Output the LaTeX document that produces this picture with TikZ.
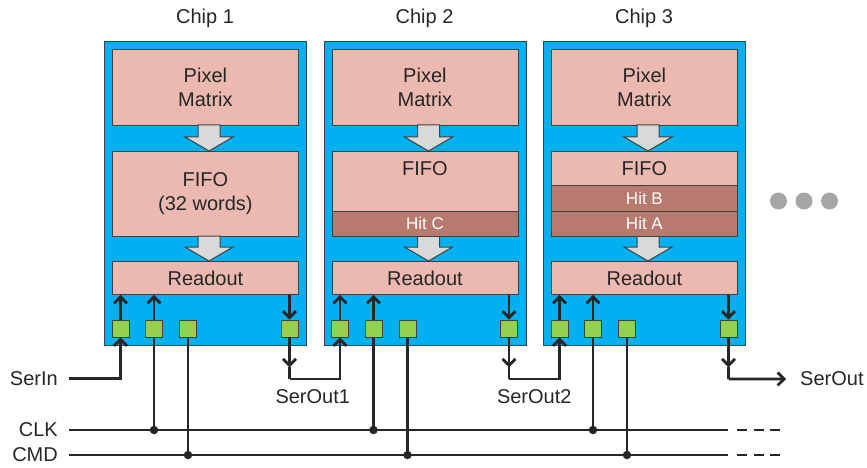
\documentclass[tikz,border=0pt]{standalone}
\usepackage{fontspec}
\setmainfont{Liberation Sans}
\usetikzlibrary{arrows.meta,calc}
\definecolor{chipc}{HTML}{00B0F0}
\definecolor{blockc}{HTML}{ECB9B0}
\definecolor{hitc}{HTML}{B87A6E}
\definecolor{padc}{HTML}{92D050}
\definecolor{edgec}{HTML}{404040}
\definecolor{txtc}{HTML}{262626}
\definecolor{garrow}{HTML}{D9D9D9}
\definecolor{dotc}{HTML}{A6A6A6}
\begin{document}
\begin{tikzpicture}[x=1pt,y=-1pt,
  chipbox/.style={draw=edgec, line width=1pt, fill=chipc, minimum width=202pt, minimum height=304pt, inner sep=0pt, anchor=north west},
  blk/.style={draw=edgec, line width=0.8pt, fill=blockc, minimum width=186pt, inner sep=0pt, anchor=north west, font=\fontsize{20}{24}\selectfont, text=txtc, align=center},
  hit/.style={blk, fill=hitc, text=white, font=\fontsize{17}{20}\selectfont, minimum height=25.5pt},
  lbl/.style={font=\fontsize{20}{24}\selectfont, text=txtc, inner sep=0pt},
  pad/.style={draw=edgec, line width=0.8pt, fill=padc, minimum size=17pt, inner sep=0pt},
  wire/.style={line width=2.8pt, draw=txtc},
  arr/.style={wire, -{Straight Barb[length=6.5pt,width=13pt]}},
  bigarrow/.style={draw=edgec, line width=1pt, fill=garrow, line join=miter},
  junction/.style={circle, fill=txtc, minimum size=8.5pt, inner sep=0pt},
  ellip/.style={circle, fill=dotc, minimum size=17pt, inner sep=0pt},
  busdash/.style={wire, dash pattern=on 10pt off 6.5pt}
]
\useasboundingbox (0,0) rectangle (867,468);

% chips and their blocks
\foreach \i/\L in {1/104,2/323.5,3/543}{
  \node[lbl, anchor=base] (title\i) at (\L+101,23.3) {Chip \i};
  \node[chipbox] (chip\i) at (\L,41) {};
  \node[blk, minimum height=76pt] (pm\i) at (\L+8,49) {Pixel\\Matrix};
  \node[blk, minimum height=85pt] (fifo\i) at (\L+8,151) {};
  \node[blk, minimum height=33pt] (ro\i) at (\L+8,261) {Readout};
  % block arrows
  \draw[bigarrow] (\L+94,125) -- (\L+116,125) -- (\L+116,137) -- (\L+129,137)
     -- (\L+105,151) -- (\L+81,137) -- (\L+94,137) -- cycle;
  \draw[bigarrow] (\L+94,236) -- (\L+116,236) -- (\L+116,247) -- (\L+129,247)
     -- (\L+105,261) -- (\L+81,247) -- (\L+94,247) -- cycle;
}
\node[lbl, align=center] (fifotxt1) at (fifo1.center) {FIFO\\(32 words)};
\node[lbl] (fifotxt2) at ($(fifo2.north)+(0,18)$) {FIFO};
\node[lbl] (fifotxt3) at ($(fifo3.north)+(0,18)$) {FIFO};
\node[hit] (hitc) at (331.5,210.5) {Hit C};
\node[hit] (hitb) at (551,185) {Hit B};
\node[hit] (hita) at (551,210.5) {Hit A};

% pads (positions)
\foreach \i/\L in {1/104,2/323.5,3/543}{
  \coordinate (pa\i) at (\L+16.5,328.5);
  \coordinate (pb\i) at (\L+50,328.5);
  \coordinate (pc\i) at (\L+84,328.5);
  \coordinate (pd\i) at (\L+185.5,328.5);
}

% bus lines
\coordinate (clkL) at (69,430);
\coordinate (clkR) at (728,430);
\coordinate (clkD1) at (737,430);
\coordinate (clkD2) at (781,430);
\coordinate (cmdL) at (69,455);
\coordinate (cmdR) at (728,455);
\coordinate (cmdD1) at (737,455);
\coordinate (cmdD2) at (781,455);
\draw[wire] (clkL) -- (clkR);
\draw[busdash] (clkD1) -- (clkD2);
\draw[wire] (cmdL) -- (cmdR);
\draw[busdash] (cmdD1) -- (cmdD2);
\node[lbl, anchor=east] (clklbl) at (58,430) {CLK};
\node[lbl, anchor=east] (cmdlbl) at (58,455) {CMD};

\foreach \i in {1,2,3}{
  \node[junction] (jclk\i) at (pb\i |- clkL) {};
  \node[junction] (jcmd\i) at (pc\i |- cmdL) {};
  \draw[wire] (jclk\i.center) -- (pb\i);
  \draw[wire] (jcmd\i.center) -- (pc\i);
}

% pads drawn on top
\foreach \i in {1,2,3}{
  \node[pad] (PA\i) at (pa\i) {};
  \node[pad] (PB\i) at (pb\i) {};
  \node[pad] (PC\i) at (pc\i) {};
  \node[pad] (PD\i) at (pd\i) {};
  \draw[arr] (PA\i.north) -- (PA\i.north |- ro\i.south);
  \draw[arr] (PB\i.north) -- (PB\i.north |- ro\i.south);
  \draw[arr] (PD\i.north |- ro\i.south) -- (PD\i.north);
  \coordinate (mid\i) at ($(PD\i.south)+(0,30)$);
  \draw[arr] (PD\i.south) -- (mid\i);
}

% serial chain
\coordinate (serin) at (69,378.5);
\node[lbl, anchor=east] (serinlbl) at (58,378.5) {SerIn};
\draw[arr] (serin) -| (PA1.south);
\coordinate (so1) at ($(PD1.south)+(0,41.5)$);
\draw[wire] (mid1) -- (so1);
\draw[arr] (so1) -| (PA2.south);
\node[lbl] (so1lbl) at ($(so1)!0.5!(so1 -| PA2)+(-2,18)$) {SerOut1};
\coordinate (so2) at ($(PD2.south)+(0,41.5)$);
\draw[wire] (mid2) -- (so2);
\draw[arr] (so2) -| (PA3.south);
\node[lbl] (so2lbl) at ($(so2)!0.5!(so2 -| PA3)+(0,18)$) {SerOut2};
\coordinate (so3) at ($(PD3.south)+(0,41.5)$);
\coordinate (soend) at (786,379);
\draw[wire] (mid3) -- (so3);
\draw[arr] (so3) -- (soend);
\node[lbl, anchor=west] (soutlbl) at (800,379) {SerOut};

% ellipsis
\node[ellip] (e1) at (778.5,201) {};
\node[ellip] (e2) at (804,201) {};
\node[ellip] (e3) at (829.5,201) {};
\end{tikzpicture}
\end{document}
